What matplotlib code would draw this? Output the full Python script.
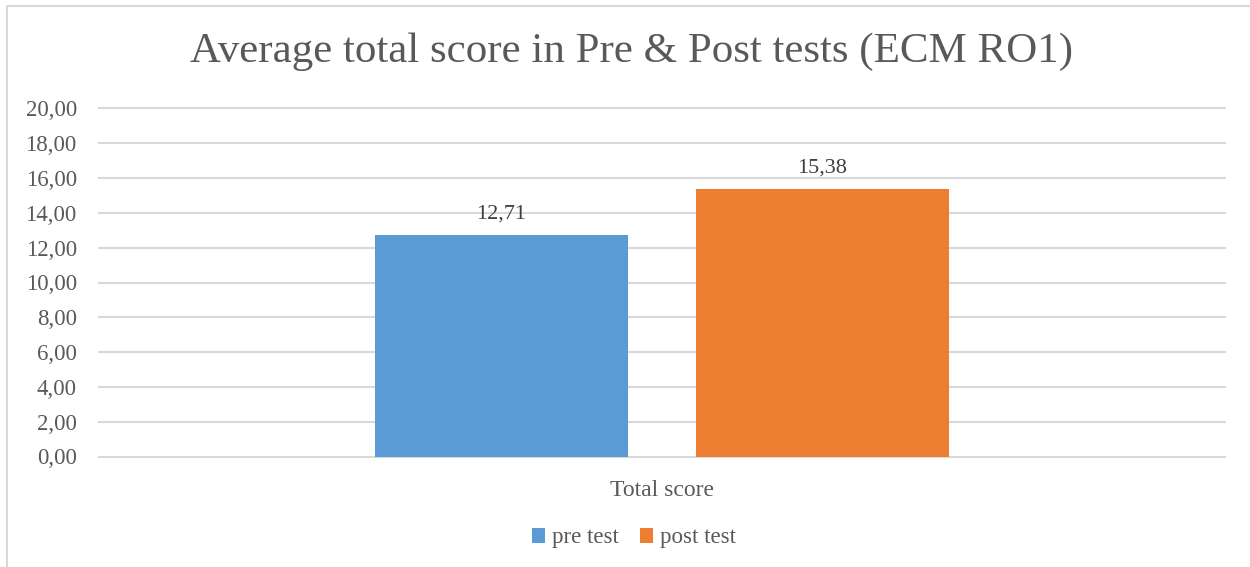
import matplotlib.pyplot as plt
from matplotlib.patches import Rectangle

series = ['pre test', 'post test']
values = [12.71, 15.38]
labels = ['12,71', '15,38']
category = 'Total score'
colors = ['#5B9BD5', '#ED7D31']

plt.rcParams['font.family'] = ['Liberation Serif', 'DejaVu Serif']
grey = '#595959'

fig = plt.figure(figsize=(12.5, 5.67), dpi=100)
fig.patches.append(Rectangle((7 / 1250, -0.1), 1.2, 1 - 6 / 567 + 0.1,
                             transform=fig.transFigure, fill=False,
                             edgecolor='#d9d9d9', linewidth=1.5))

ax = fig.add_axes([99 / 1250, 1 - 456.5 / 567, 1126 / 1250, 348 / 567])

width = 253 / 1126
offsets = [-(253 + 68) / 2 / 1126, (253 + 68) / 2 / 1126]
for i in range(len(series)):
    ax.bar(offsets[i], values[i], width=width, color=colors[i], label=series[i], zorder=3)
    ax.text(offsets[i], values[i] + 0.65, labels[i], ha='center', va='bottom',
            fontsize=16, color='#404040')

ax.set_xlim(-0.5, 0.5)
ax.set_ylim(0, 20)
ax.set_yticks(range(0, 21, 2))
ax.set_yticklabels(['%d,00' % v for v in range(0, 21, 2)], fontsize=16.5, color=grey)
ax.set_xticks([0])
ax.set_xticklabels([category], fontsize=17, color=grey)
ax.tick_params(length=0, axis='y', pad=16)
ax.tick_params(length=0, axis='x', pad=17)
ax.grid(axis='y', color='#d9d9d9', linewidth=1.5, zorder=0)
for gl in ax.get_ygridlines():
    gl.set_clip_on(False)
for s in ax.spines.values():
    s.set_visible(False)

fig.suptitle('Average total score in Pre & Post tests (ECM RO1)', y=1 - 52 / 567,
             va='center', fontsize=31, color=grey, x=631 / 1250)

fig.legend(loc='center', bbox_to_anchor=(634 / 1250, 1 - 538 / 567), ncol=2,
           frameon=False, fontsize=16.5, labelcolor=grey, handlelength=0.58,
           handleheight=0.58, handletextpad=0.3, columnspacing=0.9)

plt.savefig('out.png')
